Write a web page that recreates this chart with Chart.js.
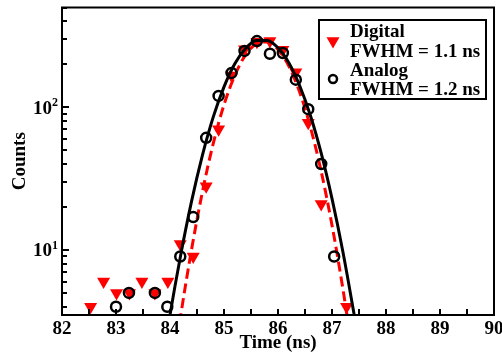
<!DOCTYPE html>
<html>
<head>
<meta charset="utf-8">
<script src="https://cdn.jsdelivr.net/npm/chart.js@4.4.0/dist/chart.umd.min.js"></script>
<style>
  html, body { margin: 0; padding: 0; background: #fff; }
  canvas { display: block; }
</style>
</head>
<body>
<canvas id="chart" width="502" height="356"></canvas>
<script>
// measured points
const digitalTime = [82.53, 82.77, 83.01, 83.25, 83.48, 83.72, 83.96, 84.19, 84.43, 84.67, 84.90, 85.14, 85.38, 85.61, 85.85, 86.09, 86.33, 86.56, 86.80, 87.27];
const digitalCounts = [4, 6, 5, 5, 6, 5, 6, 11, 9, 28, 70, 167, 255, 288, 291, 253, 176, 78, 21, 4];
const analogTime = [83.00, 83.24, 83.72, 83.95, 84.19, 84.43, 84.67, 84.90, 85.14, 85.38, 85.61, 85.85, 86.09, 86.33, 86.56, 86.80, 87.04];
const analogCounts = [4, 5, 5, 4, 9, 17, 61, 120, 174, 248, 291, 237, 240, 156, 97, 40, 9];

// fitted curves
const digitalFitTime = [84.1, 84.2, 84.4, 84.6, 84.8, 85.0, 85.2, 85.4, 85.6, 85.8, 86.0, 86.2, 86.4, 86.6, 86.8, 87.0, 87.2, 87.4];
const digitalFitCounts = [1.9, 3.5, 10.1, 25.5, 55.5, 104, 167, 233, 278, 287, 254, 194, 128, 72.6, 35.5, 14.9, 5.4, 1.7];
const analogFitTime = [83.9, 84.0, 84.2, 84.4, 84.6, 84.8, 85.0, 85.2, 85.4, 85.6, 85.8, 86.0, 86.2, 86.4, 86.6, 86.8, 87.0, 87.2, 87.4, 87.5];
const analogFitCounts = [2.0, 3.5, 9.3, 22.0, 46.0, 85.2, 139, 202, 258, 293, 294, 261, 205, 142, 87.5, 47.6, 22.9, 9.8, 3.7, 2.2];

const xTickLabels = [82, 83, 84, 85, 86, 87, 88, 89, 90];
const yTickLabels = [10, 100];
const legendText = [['Digital', 'FWHM = 1.1 ns'], ['Analog', 'FWHM = 1.2 ns']];

const SERIF = '"Liberation Serif", "Times New Roman", serif';
const RED = '#ff0000';

const pts = (xs, ys) => xs.map((x, i) => ({ x: x, y: ys[i] }));

// frame, inward ticks, tick labels and the boxed legend
const axesPlugin = {
    id: 'axesPlugin',
    afterDatasetsDraw(chart) {
        const { ctx, chartArea: a, scales: { x, y } } = chart;
        ctx.save();
        ctx.strokeStyle = '#000';
        ctx.lineWidth = 2;
        ctx.strokeRect(a.left, a.top, a.right - a.left, a.bottom - a.top);

        ctx.beginPath();
        for (let e = 0; e <= 2; e++) {
            for (let m = 1; m <= 9; m++) {
                const v = m * Math.pow(10, e);
                if (v < y.min || v > y.max) continue;
                const py = Math.round(y.getPixelForValue(v));
                ctx.moveTo(a.left, py);
                ctx.lineTo(a.left + (m === 1 ? 7 : 5), py);
            }
        }
        for (let t = x.min; t <= x.max; t += 0.5) {
            const px = Math.round(x.getPixelForValue(t));
            ctx.moveTo(px, a.bottom);
            ctx.lineTo(px, a.bottom - 6);
        }
        ctx.stroke();

        ctx.fillStyle = '#000';
        ctx.font = 'bold 19px ' + SERIF;
        ctx.textAlign = 'center';
        ctx.textBaseline = 'alphabetic';
        xTickLabels.forEach(t => ctx.fillText(String(t), x.getPixelForValue(t), a.bottom + 19));

        yTickLabels.forEach(v => {
            const py = y.getPixelForValue(v);
            const exp = String(Math.round(Math.log10(v)));
            const right = a.left - 4;
            ctx.font = 'bold 12px ' + SERIF;
            const ew = ctx.measureText(exp).width;
            ctx.textAlign = 'left';
            ctx.fillText(exp, right - ew, py - 1);
            ctx.font = 'bold 19px ' + SERIF;
            ctx.textAlign = 'right';
            ctx.fillText('10', right - ew, py + 6.5);
        });

        // legend
        ctx.lineWidth = 2;
        ctx.strokeRect(319, 20, 167, 79);
        ctx.fillStyle = RED;
        Chart.helpers.drawPoint(ctx, { pointStyle: 'triangle', rotation: 180, radius: 7.5, borderWidth: 0 }, 333, 41);
        ctx.strokeStyle = '#000';
        ctx.lineWidth = 2.5;
        ctx.beginPath();
        ctx.arc(333, 79, 4, 0, Math.PI * 2);
        ctx.stroke();

        ctx.fillStyle = '#000';
        ctx.font = 'bold 19px ' + SERIF;
        ctx.textAlign = 'left';
        const baselines = [[37, 56.5], [76, 95]];
        legendText.forEach((lines, i) => {
            lines.forEach((txt, j) => ctx.fillText(txt, 350, baselines[i][j]));
        });
        ctx.restore();
    }
};

new Chart(document.getElementById('chart'), {
    type: 'line',
    data: {
        datasets: [
            {
                label: 'Digital',
                data: pts(digitalTime, digitalCounts),
                showLine: false,
                pointStyle: 'triangle',
                rotation: 180,
                pointRadius: 7.5,
                pointBorderWidth: 0,
                pointBackgroundColor: RED,
                order: 4
            },
            {
                label: 'Digital fit',
                data: pts(digitalFitTime, digitalFitCounts),
                borderColor: RED,
                borderWidth: 3,
                borderDash: [10, 5],
                pointRadius: 0,
                cubicInterpolationMode: 'monotone',
                fill: false,
                order: 3
            },
            {
                label: 'Analog fit',
                data: pts(analogFitTime, analogFitCounts),
                borderColor: '#000',
                borderWidth: 3,
                pointRadius: 0,
                cubicInterpolationMode: 'monotone',
                fill: false,
                order: 2
            },
            {
                label: 'Analog',
                data: pts(analogTime, analogCounts),
                showLine: false,
                pointStyle: 'circle',
                pointRadius: 5,
                pointBorderWidth: 2.5,
                pointBorderColor: '#000',
                pointBackgroundColor: 'rgba(0,0,0,0)',
                order: 1
            }
        ]
    },
    options: {
        responsive: false,
        animation: false,
        devicePixelRatio: 1,
        layout: { padding: { top: 7, right: 8, left: 0, bottom: 0 } },
        plugins: { legend: { display: false }, tooltip: { enabled: false } },
        scales: {
            x: {
                type: 'linear',
                min: 82,
                max: 90,
                grid: { display: false },
                border: { display: false },
                ticks: { display: false },
                title: { display: true, text: 'Time (ns)', color: '#000', font: { family: SERIF, size: 19, weight: 'bold' }, padding: { top: 0, bottom: 2 } },
                afterFit: s => { s.height = 41; }
            },
            y: {
                type: 'logarithmic',
                min: 3.5,
                max: 500,
                grid: { display: false },
                border: { display: false },
                ticks: { display: false },
                title: { display: true, text: 'Counts', color: '#000', font: { family: SERIF, size: 19, weight: 'bold' }, padding: { top: 9, bottom: 0 } },
                afterFit: s => { s.width = 62; }
            }
        }
    },
    plugins: [axesPlugin]
});
</script>
</body>
</html>
